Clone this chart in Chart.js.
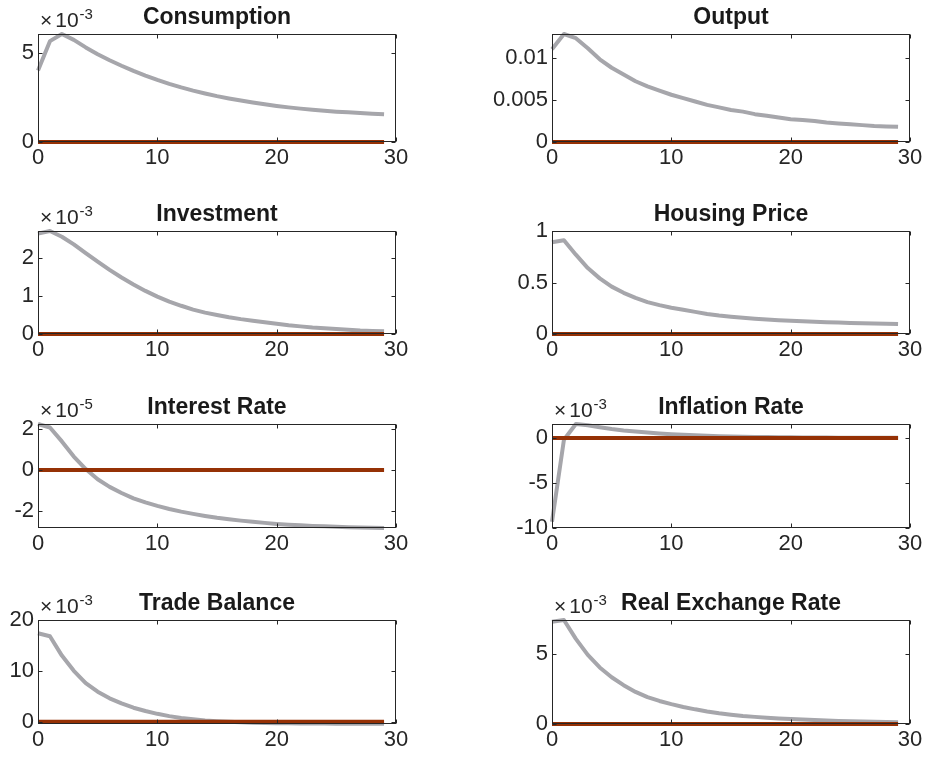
<!DOCTYPE html>
<html>
<head>
<meta charset="utf-8">
<script src="https://cdn.jsdelivr.net/npm/chart.js@4.4.1/dist/chart.umd.min.js"></script>
<style>
  html, body { margin: 0; padding: 0; background: #ffffff; }
  body { width: 925px; height: 757px; position: relative; overflow: hidden; }
  canvas { position: absolute; }
</style>
</head>
<body>
<script>
// Impulse responses over 30 periods, one array per panel
const periods = [0,1,2,3,4,5,6,7,8,9,10,11,12,13,14,15,16,17,18,19,20,21,22,23,24,25,26,27,28,29];

const titles = ['Consumption', 'Output', 'Investment', 'Housing Price',
                'Interest Rate', 'Inflation Rate', 'Trade Balance', 'Real Exchange Rate'];

const consumption = [4.00e-3,5.65e-3,6.05e-3,5.72e-3,5.30e-3,4.92e-3,4.58e-3,4.27e-3,3.98e-3,3.72e-3,
                     3.48e-3,3.26e-3,3.06e-3,2.88e-3,2.72e-3,2.57e-3,2.44e-3,2.32e-3,2.21e-3,2.11e-3,
                     2.02e-3,1.94e-3,1.87e-3,1.81e-3,1.75e-3,1.70e-3,1.66e-3,1.62e-3,1.58e-3,1.55e-3];

const output = [0.0110,0.0128,0.0123,0.0111,0.0098,0.0088,0.0080,0.0072,0.0066,0.0061,
                0.0056,0.0052,0.0048,0.0044,0.0041,0.0038,0.0036,0.0033,0.0031,0.0029,
                0.0027,0.0026,0.0025,0.0023,0.0022,0.0021,0.0020,0.0019,0.00185,0.0018];

const investment = [2.63e-3,2.70e-3,2.55e-3,2.35e-3,2.12e-3,1.90e-3,1.68e-3,1.48e-3,1.30e-3,1.13e-3,
                    0.98e-3,0.85e-3,0.74e-3,0.64e-3,0.56e-3,0.50e-3,0.44e-3,0.39e-3,0.35e-3,0.31e-3,
                    0.27e-3,0.23e-3,0.20e-3,0.17e-3,0.15e-3,0.13e-3,0.11e-3,0.09e-3,0.08e-3,0.07e-3];

const housingPrice = [0.89,0.91,0.77,0.64,0.54,0.46,0.40,0.35,0.31,0.28,
                      0.255,0.235,0.215,0.195,0.18,0.168,0.158,0.149,0.141,0.134,
                      0.128,0.123,0.118,0.114,0.111,0.108,0.105,0.102,0.099,0.097];

const interestRate = [2.25e-5,2.08e-5,1.40e-5,0.66e-5,0.05e-5,-0.45e-5,-0.82e-5,-1.12e-5,-1.38e-5,-1.58e-5,
                      -1.75e-5,-1.90e-5,-2.03e-5,-2.14e-5,-2.24e-5,-2.33e-5,-2.40e-5,-2.47e-5,-2.53e-5,-2.58e-5,
                      -2.63e-5,-2.67e-5,-2.70e-5,-2.73e-5,-2.75e-5,-2.77e-5,-2.79e-5,-2.81e-5,-2.82e-5,-2.83e-5];

const inflationRate = [-9.3e-3,-0.2e-3,1.55e-3,1.40e-3,1.20e-3,1.00e-3,0.84e-3,0.71e-3,0.60e-3,0.50e-3,
                       0.42e-3,0.35e-3,0.29e-3,0.24e-3,0.20e-3,0.17e-3,0.14e-3,0.12e-3,0.10e-3,0.08e-3,
                       0.07e-3,0.06e-3,0.05e-3,0.04e-3,0.035e-3,0.03e-3,0.025e-3,0.02e-3,0.018e-3,0.015e-3];

const tradeBalance = [17.4e-3,16.8e-3,13.0e-3,10.0e-3,7.6e-3,5.9e-3,4.6e-3,3.6e-3,2.75e-3,2.1e-3,
                      1.55e-3,1.1e-3,0.75e-3,0.48e-3,0.26e-3,0.10e-3,-0.02e-3,-0.11e-3,-0.18e-3,-0.24e-3,
                      -0.28e-3,-0.31e-3,-0.34e-3,-0.36e-3,-0.37e-3,-0.38e-3,-0.39e-3,-0.40e-3,-0.40e-3,-0.41e-3];

const realExchangeRate = [7.33e-3,7.45e-3,6.10e-3,4.95e-3,4.05e-3,3.35e-3,2.78e-3,2.30e-3,1.92e-3,1.65e-3,
                          1.42e-3,1.22e-3,1.05e-3,0.90e-3,0.77e-3,0.67e-3,0.58e-3,0.51e-3,0.45e-3,0.40e-3,
                          0.36e-3,0.32e-3,0.28e-3,0.25e-3,0.22e-3,0.20e-3,0.18e-3,0.16e-3,0.14e-3,0.12e-3];

// Reference path: no response
const steadyState = [0,0,0,0,0,0,0,0,0,0,0,0,0,0,0,0,0,0,0,0,0,0,0,0,0,0,0,0,0,0];

const responses = [consumption, output, investment, housingPrice,
                   interestRate, inflationRate, tradeBalance, realExchangeRate];

// Axis ticks and limits
const xTicks = [0, 10, 20, 30];
const xLimits = [0, 30];
const exponents = [-3, null, -3, null, -5, -3, -3, -3];
const yTicks = [[0, 5e-3], [0, 0.005, 0.01], [0, 1e-3, 2e-3], [0, 0.5, 1],
                [-2e-5, 0, 2e-5], [-10e-3, -5e-3, 0], [0, 10e-3, 20e-3], [0, 5e-3]];
const yTickLabels = [['0', '5'], ['0', '0.005', '0.01'], ['0', '1', '2'], ['0', '0.5', '1'],
                     ['-2', '0', '2'], ['-10', '-5', '0'], ['0', '10', '20'], ['0', '5']];
const yLimits = [[0, 6.05e-3], [0, 0.0128], [0, 2.70e-3], [0, 1],
                 [-2.83e-5, 2.25e-5], [-10e-3, 1.55e-3], [-0.45e-3, 20e-3], [0, 7.45e-3]];

// Grid of axes boxes (pixels)
const colLefts = [38, 552];
const boxWidth = 358;
const rowTops = [34, 231, 424, 620];
const rowBottoms = [142, 334, 528, 724];

const FONT = '"Liberation Sans", Arial, Helvetica, sans-serif';
const AXIS_COLOR = '#262626';
const LEFT_PAD = 60, TOP_PAD = 40, RIGHT_PAD = 60, BOTTOM_PAD = 40;

// Box, inward ticks on all four sides, title and exponent label
const matlabAxes = {
  id: 'matlabAxes',
  afterDraw(chart, args, opts) {
    const { ctx, chartArea: a, scales } = chart;
    const L = Math.round(a.left) + 0.5, R = Math.round(a.right) - 0.5;
    const T = Math.round(a.top) + 0.5, B = Math.round(a.bottom) - 0.5;
    ctx.save();
    ctx.strokeStyle = AXIS_COLOR;
    ctx.lineWidth = 1;
    ctx.strokeRect(L, T, R - L, B - T);
    const len = 4;
    ctx.beginPath();
    scales.x.ticks.forEach(t => {
      const px = Math.round(scales.x.getPixelForValue(t.value)) + 0.5;
      ctx.moveTo(px, B); ctx.lineTo(px, B - len);
      ctx.moveTo(px, T); ctx.lineTo(px, T + len);
    });
    scales.y.ticks.forEach(t => {
      const py = Math.round(scales.y.getPixelForValue(t.value)) + 0.5;
      ctx.moveTo(L, py); ctx.lineTo(L + len, py);
      ctx.moveTo(R, py); ctx.lineTo(R - len, py);
    });
    ctx.stroke();

    // title
    ctx.fillStyle = '#1a1a1a';
    ctx.font = 'bold 23px ' + FONT;
    ctx.textAlign = 'center';
    ctx.textBaseline = 'alphabetic';
    ctx.fillText(opts.title, (a.left + a.right) / 2, a.top - 10);

    // exponent multiplier
    if (opts.exponent !== null) {
      ctx.fillStyle = AXIS_COLOR;
      ctx.textAlign = 'left';
      let x = a.left + 2;
      const base = a.top - 7;
      ctx.font = '21px ' + FONT;
      ctx.fillText('\u00d7', x, base);
      x += ctx.measureText('\u00d7').width + 3;
      ctx.fillText('10', x, base);
      x += ctx.measureText('10').width + 1;
      ctx.font = '15px ' + FONT;
      ctx.fillText(String(opts.exponent), x, base - 8);
    }
    ctx.restore();
  }
};

responses.forEach((values, i) => {
  const col = i % 2, row = Math.floor(i / 2);
  const boxL = colLefts[col], boxT = rowTops[row], boxH = rowBottoms[row] - rowTops[row];
  const canvas = document.createElement('canvas');
  const w = boxWidth + LEFT_PAD + RIGHT_PAD, h = boxH + TOP_PAD + BOTTOM_PAD;
  canvas.width = w; canvas.height = h;
  canvas.style.width = w + 'px'; canvas.style.height = h + 'px';
  canvas.style.left = (boxL - LEFT_PAD) + 'px';
  canvas.style.top = (boxT - TOP_PAD) + 'px';
  document.body.appendChild(canvas);

  const ticksY = yTicks[i], labelsY = yTickLabels[i];

  new Chart(canvas, {
    type: 'line',
    data: {
      datasets: [
        {
          data: periods.map((p, k) => ({ x: p, y: steadyState[k] })),
          borderColor: '#953105', borderWidth: 4, pointRadius: 0, tension: 0, order: 0,
          clip: 6
        },
        {
          data: periods.map((p, k) => ({ x: p, y: values[k] })),
          borderColor: '#a6a6ab', borderWidth: 4, pointRadius: 0, tension: 0, order: 1,
          borderJoinStyle: 'round', borderCapStyle: 'butt', clip: 6
        }
      ]
    },
    options: {
      responsive: false,
      animation: false,
      devicePixelRatio: 1,
      layout: { padding: { top: TOP_PAD, right: RIGHT_PAD, left: 0, bottom: 0 } },
      plugins: {
        legend: { display: false },
        tooltip: { enabled: false },
        matlabAxes: { title: titles[i], exponent: exponents[i] }
      },
      scales: {
        x: {
          type: 'linear',
          min: xLimits[0], max: xLimits[1],
          afterBuildTicks: s => { s.ticks = xTicks.map(v => ({ value: v })); },
          afterFit: s => { s.height = BOTTOM_PAD; },
          grid: { display: false, drawTicks: false },
          border: { display: false },
          ticks: {
            color: AXIS_COLOR, padding: 3, maxRotation: 0, autoSkip: false,
            font: { family: FONT, size: 22 },
            callback: v => String(v)
          }
        },
        y: {
          type: 'linear',
          min: yLimits[i][0], max: yLimits[i][1],
          afterBuildTicks: s => { s.ticks = ticksY.map(v => ({ value: v })); },
          afterFit: s => { s.width = LEFT_PAD; },
          grid: { display: false, drawTicks: false },
          border: { display: false },
          ticks: {
            color: AXIS_COLOR, padding: 4, autoSkip: false,
            font: { family: FONT, size: 22 },
            callback: (v, idx) => labelsY[idx]
          }
        }
      }
    },
    plugins: [matlabAxes]
  });
});
</script>
</body>
</html>
